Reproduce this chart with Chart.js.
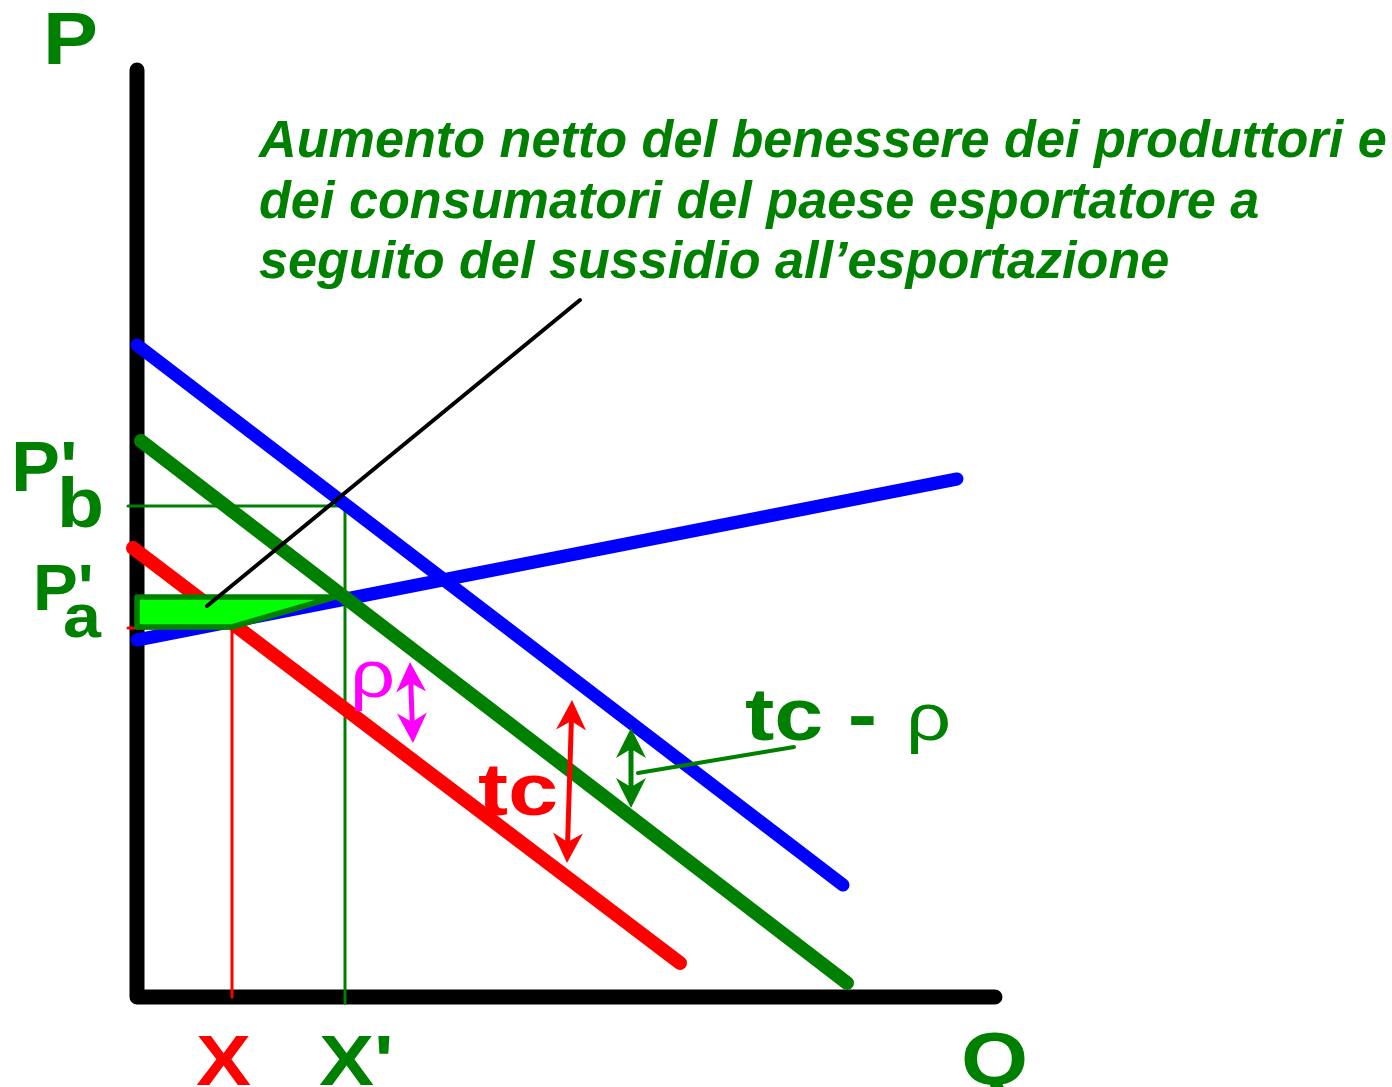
<!DOCTYPE html>
<html lang="it">
<head>
<meta charset="UTF-8">
<title>Sussidio all'esportazione</title>
<script src="https://cdn.jsdelivr.net/npm/chart.js"></script>
<style>
  html, body { margin: 0; padding: 0; background: #fff; }
  #wrap { width: 1392px; height: 1087px; }
</style>
</head>
<body>
<div id="wrap"><canvas id="chart" width="1392" height="1087"></canvas></div>
<script>
// Axes (Q horizontal, P vertical)
const axisQ = [0, 0, 85.8];
const axisP = [92.7, 0, 0];

// Curves
const demandQ = [0, 70.6];        // blue, downward
const demandP = [65.2, 11.2];
const supplyQ = [0, 82.0];        // blue, upward
const supplyP = [35.7, 51.8];
const greenQ = [0.4, 71.0];       // demand shifted by tc - rho
const greenP = [55.6, 1.4];
const redQ = [-0.4, 54.3];        // demand shifted by tc
const redP = [44.9, 3.4];

// Guide lines for P'b / X' and P'a / X
const pbGuideQ = [-0.9, 20.8, 20.8];
const pbGuideP = [49.1, 49.1, -0.6];
const paGuideQ = [-0.9, 9.5, 9.5];
const paGuideP = [36.9, 36.9, 0];

// Net welfare gain area
const gainQ = [0, 19.8, 9.5, 0];
const gainP = [40.0, 40.0, 37.0, 37.0];

// Pointer lines
const notePointerQ = [7.0, 44.3];
const notePointerP = [39.1, 69.7];
const tcRhoPointerQ = [50.1, 65.7];
const tcRhoPointerP = [22.4, 25.0];

// Double arrows
const rhoArrowQ = [27.3, 27.6];
const rhoArrowP = [33.5, 25.4];
const tcArrowQ = [43.5, 43.0];
const tcArrowP = [29.7, 13.4];
const netArrowQ = [49.4, 49.4];
const netArrowP = [26.9, 18.9];

const noteLines = [
  "Aumento netto del benessere dei produttori e",
  "dei consumatori del paese esportatore a",
  "seguito del sussidio all\u2019esportazione"
];

const GREEN = "#008000";
const FONT = "'Liberation Sans', Arial, sans-serif";

function pts(qs, ps) {
  return qs.map((q, i) => ({ x: q, y: ps[i] }));
}

function lineSet(qs, ps, color, width, order) {
  return {
    data: pts(qs, ps),
    showLine: true,
    borderColor: color,
    borderWidth: width,
    borderCapStyle: "round",
    borderJoinStyle: "round",
    pointRadius: 0,
    pointHoverRadius: 0,
    fill: false,
    tension: 0,
    order: order
  };
}

// text labels: [text, q, p, color, font, horizontal stretch]
const labels = [
  ["P", -9.4, 93.3, GREEN, "bold 75px " + FONT, 1.1],
  ["P'", -12.6, 50.6, GREEN, "bold 70px " + FONT, 1.05],
  ["b", -8.0, 47.0, GREEN, "bold 70px " + FONT, 1.1],
  ["P'", -10.4, 38.7, GREEN, "bold 64px " + FONT, 1.05],
  ["a", -7.4, 36.0, GREEN, "bold 62px " + FONT, 1.1],
  ["X", 5.9, -8.8, "#ff0000", "bold 70px " + FONT, 1.18],
  ["X'", 18.2, -8.8, GREEN, "bold 70px " + FONT, 1.18],
  ["Q", 82.4, -8.7, GREEN, "bold 75px " + FONT, 1.15],
  ["\u03c1", 21.3, 30.0, "#ff00ff", "66px " + FONT, 1.2],
  ["tc", 34.1, 18.2, "#ff0000", "bold 74px " + FONT, 1.22],
  ["tc -", 60.8, 25.7, GREEN, "bold 74px " + FONT, 1.19],
  ["\u03c1", 76.9, 25.7, GREEN, "66px " + FONT, 1.2]
];

function drawDoubleArrow(ctx, x1, y1, x2, y2, color) {
  const ang = Math.atan2(y2 - y1, x2 - x1);
  const len = 30, half = 15, notch = 21;
  ctx.save();
  ctx.strokeStyle = color;
  ctx.fillStyle = color;
  ctx.lineWidth = 5;
  ctx.beginPath();
  ctx.moveTo(x1 + Math.cos(ang) * notch, y1 + Math.sin(ang) * notch);
  ctx.lineTo(x2 - Math.cos(ang) * notch, y2 - Math.sin(ang) * notch);
  ctx.stroke();
  [[x1, y1, ang], [x2, y2, ang + Math.PI]].forEach(([tx, ty, a]) => {
    const c = Math.cos(a), s = Math.sin(a);
    ctx.beginPath();
    ctx.moveTo(tx, ty);
    ctx.lineTo(tx + c * len - s * half, ty + s * len + c * half);
    ctx.lineTo(tx + c * notch, ty + s * notch);
    ctx.lineTo(tx + c * len + s * half, ty + s * len - c * half);
    ctx.closePath();
    ctx.fill();
  });
  ctx.restore();
}

const decorations = {
  id: "decorations",
  afterDatasetDraw(chart, args) {
    // gain area sits on top of the green demand line
    if (args.index !== 5) return;
    const xs = chart.scales.x, ys = chart.scales.y;
    const ctx = chart.ctx;
    ctx.save();
    ctx.beginPath();
    gainQ.forEach((q, i) => {
      const px = xs.getPixelForValue(q), py = ys.getPixelForValue(gainP[i]);
      if (i === 0) ctx.moveTo(px, py); else ctx.lineTo(px, py);
    });
    ctx.closePath();
    ctx.fillStyle = "#00ff00";
    ctx.fill();
    ctx.strokeStyle = GREEN;
    ctx.lineWidth = 5.5;
    ctx.lineJoin = "round";
    ctx.stroke();
    ctx.restore();
  },
  afterDraw(chart) {
    const xs = chart.scales.x, ys = chart.scales.y;
    const ctx = chart.ctx;
    const arrow = (qs, ps, color) => drawDoubleArrow(ctx,
      xs.getPixelForValue(qs[0]), ys.getPixelForValue(ps[0]),
      xs.getPixelForValue(qs[1]), ys.getPixelForValue(ps[1]), color);
    arrow(rhoArrowQ, rhoArrowP, "#ff00ff");
    arrow(tcArrowQ, tcArrowP, "#ff0000");
    arrow(netArrowQ, netArrowP, GREEN);

    const stretchText = (t, x, y, sx) => {
      ctx.save();
      ctx.translate(x, y);
      ctx.scale(sx, 1);
      ctx.fillText(t, 0, 0);
      ctx.restore();
    };

    ctx.save();
    ctx.textBaseline = "alphabetic";
    ctx.textAlign = "left";
    labels.forEach(([t, q, p, color, font, sx]) => {
      ctx.font = font;
      ctx.fillStyle = color;
      stretchText(t, xs.getPixelForValue(q), ys.getPixelForValue(p), sx);
    });
    // annotation block
    ctx.font = "italic bold 51px " + FONT;
    ctx.fillStyle = GREEN;
    noteLines.forEach((line, i) => {
      stretchText(line, xs.getPixelForValue(12.2), ys.getPixelForValue(84.0 - i * 6.05), 1.023);
    });
    ctx.restore();
  }
};

new Chart(document.getElementById("chart"), {
  type: "scatter",
  data: {
    datasets: [
      lineSet(tcRhoPointerQ, tcRhoPointerP, GREEN, 4, 1),
      lineSet(notePointerQ, notePointerP, "#000000", 4, 2),
      lineSet(axisQ, axisP, "#000000", 15, 20),
      lineSet(pbGuideQ, pbGuideP, GREEN, 3, 15),
      lineSet(paGuideQ, paGuideP, "#ff0000", 3, 14),
      lineSet(greenQ, greenP, GREEN, 14, 6),
      lineSet(demandQ, demandP, "#0000ff", 13, 7),
      lineSet(supplyQ, supplyP, "#0000ff", 13, 8),
      lineSet(redQ, redP, "#ff0000", 14, 9)
    ]
  },
  options: {
    responsive: false,
    animation: false,
    events: [],
    layout: { padding: 0 },
    plugins: { legend: { display: false }, tooltip: { enabled: false } },
    scales: {
      x: { type: "linear", min: -13.7, max: 125.5, display: false },
      y: { type: "linear", min: -9, max: 99.7, display: false }
    }
  },
  plugins: [decorations]
});
</script>
</body>
</html>
